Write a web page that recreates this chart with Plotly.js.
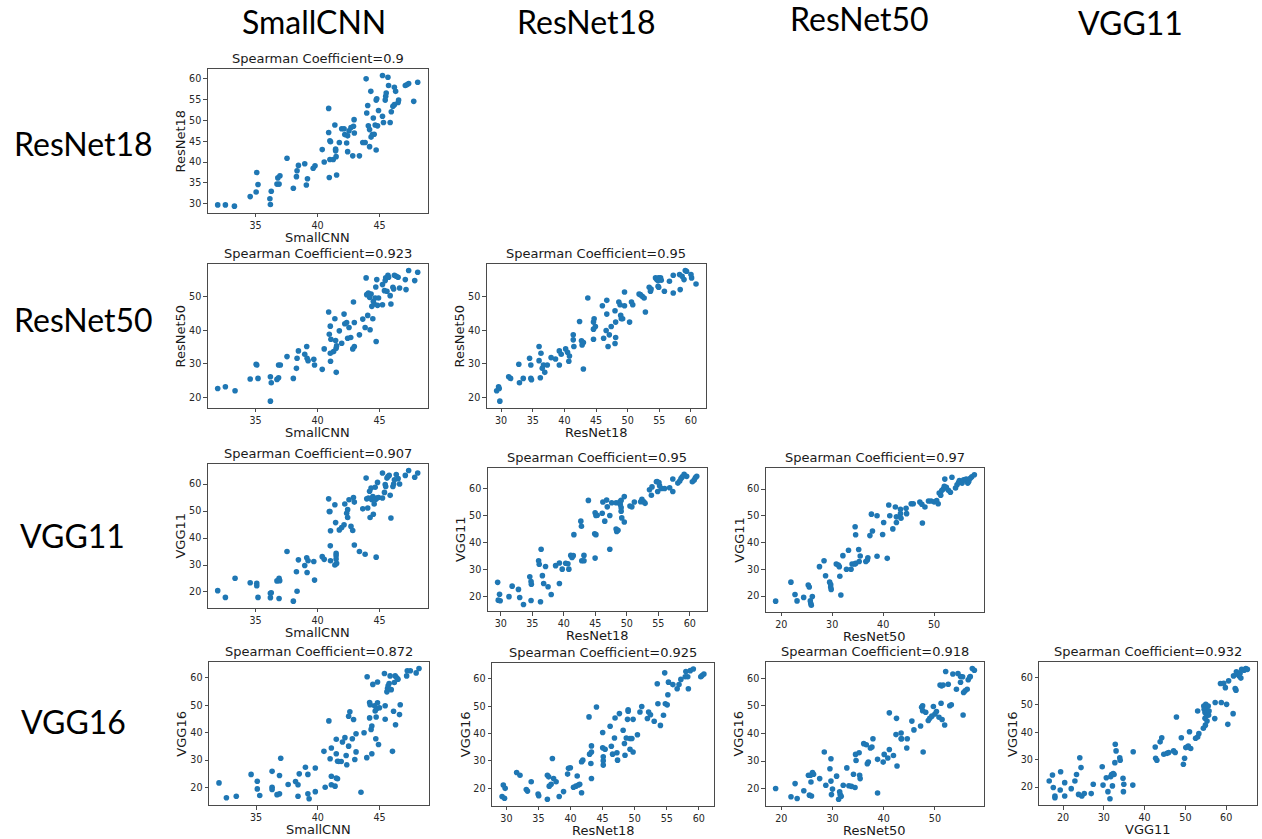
<!DOCTYPE html>
<html><head><meta charset="utf-8">
<script src="https://cdn.plot.ly/plotly-3.0.1.min.js"></script>
<style>html,body{margin:0;padding:0;background:#fff;}#chart{width:1262px;height:839px;}</style>
</head><body><div id="chart"></div>
<script>
// ---------------- data ----------------
const colHeaders = ["SmallCNN", "ResNet18", "ResNet50", "VGG11"];
const rowHeaders = ["ResNet18", "ResNet50", "VGG11", "VGG16"];
const spearman = ["0.9", "0.923", "0.95", "0.907", "0.95", "0.97", "0.872", "0.925", "0.918", "0.932"];

// [x, y] pairs per panel
const sc_r18 = [[31.95,29.7],[32.57,29.7],[33.3,29.4],[34.57,31.7],[35.05,32.8],[35.1,37.5],[35.2,34.6],[36.16,31.2],[36.2,29.8],[36.27,33.0],[36.73,34.7],[36.9,34.7],[36.8,36.2],[36.97,36.7],[37.54,40.9],[38.05,33.7],[38.3,36.5],[38.35,37.9],[38.46,39.2],[38.97,39.6],[39.1,34.5],[39.19,36.0],[39.65,38.5],[39.8,39.1],[40.38,43.0],[40.54,40.0],[40.9,52.9],[40.9,47.1],[40.95,36.3],[41.0,45.1],[41.05,44.9],[41.0,40.6],[41.27,40.6],[41.4,48.9],[41.46,43.1],[41.46,42.7],[41.5,41.3],[41.54,36.9],[41.76,44.7],[41.95,48.0],[42.14,48.0],[42.2,46.6],[42.35,44.6],[42.43,42.5],[42.43,46.3],[42.54,47.5],[42.7,48.3],[42.84,41.5],[42.9,48.6],[42.95,50.2],[42.97,47.0],[43.38,41.5],[43.65,44.7],[43.84,44.7],[43.92,60.0],[43.97,51.8],[44.05,53.6],[44.1,48.7],[44.2,47.8],[44.2,43.7],[44.3,57.0],[44.32,46.0],[44.43,46.6],[44.5,50.6],[44.57,46.7],[44.65,48.9],[44.73,54.9],[44.78,55.2],[44.73,42.9],[44.84,48.7],[44.92,52.4],[45.24,60.8],[45.24,51.0],[45.32,49.5],[45.46,54.9],[45.5,55.8],[45.54,56.6],[45.68,60.4],[45.73,58.4],[45.86,49.5],[45.95,52.1],[46.08,53.4],[46.2,53.8],[46.2,58.0],[46.3,57.0],[46.5,54.3],[46.54,54.9],[47.08,58.4],[47.2,58.6],[47.35,58.9],[47.76,54.6],[48.08,59.2]];

const sc_r50 = [[31.95,22.7],[32.57,23.2],[33.35,22.0],[34.57,25.5],[35.05,29.9],[35.1,29.7],[35.2,25.7],[36.2,26.2],[36.27,24.4],[36.2,18.9],[36.73,25.4],[36.86,25.9],[36.86,29.7],[37.0,29.7],[37.54,32.2],[38.05,25.7],[38.3,28.7],[38.35,31.7],[38.46,33.9],[38.97,32.9],[39.13,35.2],[39.16,31.7],[39.24,31.0],[39.7,31.4],[39.76,29.7],[40.38,28.4],[40.54,34.5],[40.9,45.5],[40.95,38.9],[41.03,41.3],[41.03,33.2],[41.05,30.8],[41.08,37.4],[41.3,33.7],[41.4,43.5],[41.46,37.0],[41.5,34.7],[41.54,35.4],[41.51,27.5],[41.76,39.9],[41.95,36.2],[42.14,44.9],[42.2,42.0],[42.35,42.4],[42.43,37.7],[42.54,40.9],[42.68,37.9],[42.84,34.5],[42.9,48.5],[42.97,35.2],[42.97,42.4],[43.38,38.7],[43.65,43.4],[43.84,40.9],[43.92,55.7],[43.97,50.7],[44.05,44.5],[44.1,51.2],[44.2,49.9],[44.24,40.2],[44.32,50.9],[44.38,47.2],[44.46,43.5],[44.5,48.7],[44.57,47.9],[44.65,49.7],[44.7,53.0],[44.73,36.7],[44.78,55.2],[44.84,47.5],[44.92,49.7],[45.24,47.7],[45.24,53.7],[45.4,51.9],[45.46,54.9],[45.5,55.7],[45.6,51.7],[45.68,56.5],[45.73,55.9],[45.86,50.4],[45.92,47.9],[46.08,52.9],[46.14,52.4],[46.2,56.5],[46.35,56.2],[46.5,55.9],[46.62,52.7],[47.08,55.2],[47.14,52.2],[47.35,57.9],[47.84,54.9],[48.08,57.4]];

const r18_r50 = [[29.3,22.0],[29.6,23.2],[29.7,22.7],[29.8,18.9],[31.2,26.2],[31.5,25.7],[32.8,29.9],[32.9,24.4],[33.5,25.7],[34.5,31.7],[34.7,29.7],[34.7,25.7],[34.8,25.3],[36.0,35.2],[36.0,31.0],[36.3,33.2],[36.2,25.9],[36.5,28.7],[36.7,29.7],[36.9,27.5],[37.3,29.7],[37.9,31.9],[38.6,31.5],[39.2,33.9],[39.2,29.7],[39.5,32.9],[40.2,34.5],[40.5,33.5],[40.7,30.8],[40.8,32.4],[41.4,38.7],[41.4,37.2],[41.5,35.2],[42.4,42.7],[42.7,36.9],[42.8,35.7],[43.0,36.4],[43.0,28.5],[43.7,49.7],[44.6,42.5],[44.6,40.4],[44.7,43.5],[44.9,41.2],[44.6,37.4],[46.0,47.4],[46.2,37.7],[46.6,40.0],[46.7,49.0],[46.7,44.9],[46.9,35.2],[47.1,38.7],[47.4,41.2],[48.0,36.1],[48.1,42.5],[48.1,37.9],[48.0,45.9],[48.6,48.5],[48.8,47.7],[48.9,44.5],[49.0,43.5],[49.2,43.5],[49.5,47.4],[49.5,51.5],[50.3,42.5],[50.6,48.5],[50.8,47.7],[51.8,50.9],[52.0,50.7],[52.3,50.2],[52.6,49.7],[52.8,45.5],[53.4,52.9],[53.6,51.7],[53.7,52.4],[54.4,55.7],[54.6,55.2],[54.8,54.9],[54.9,55.7],[54.8,53.2],[54.9,52.9],[55.2,55.7],[55.3,55.0],[55.8,51.7],[56.6,54.7],[57.2,56.5],[57.2,51.2],[58.2,56.7],[58.3,52.2],[58.6,56.2],[58.9,55.2],[59.1,57.9],[59.3,57.7],[60.0,56.7],[60.1,55.7],[60.8,53.9]];

const sc_v11 = [[31.95,20.5],[32.57,18.0],[33.35,25.1],[34.57,23.4],[35.1,23.2],[35.1,22.3],[35.2,18.0],[36.2,19.5],[36.2,17.9],[36.27,19.7],[36.73,24.1],[36.9,25.1],[36.95,24.2],[36.9,17.6],[37.54,35.0],[38.05,16.6],[38.3,27.5],[38.35,20.3],[38.46,31.9],[38.97,29.8],[39.13,32.7],[39.16,27.2],[39.24,31.6],[39.7,31.3],[39.76,24.4],[40.38,33.1],[40.54,32.1],[40.9,54.5],[40.95,49.8],[41.0,49.8],[41.03,37.1],[41.05,42.7],[41.05,31.6],[41.4,52.3],[41.46,45.7],[41.5,34.3],[41.5,33.4],[41.5,32.2],[41.4,30.0],[41.54,30.6],[41.76,43.0],[41.95,43.9],[42.14,44.9],[42.2,52.6],[42.35,49.2],[42.43,50.5],[42.43,47.6],[42.54,54.2],[42.7,44.3],[42.84,42.8],[42.9,55.0],[42.97,53.3],[42.97,37.4],[43.38,35.0],[43.65,50.8],[43.84,34.0],[43.92,62.2],[43.97,54.5],[44.05,51.1],[44.1,54.8],[44.2,57.3],[44.24,47.6],[44.32,58.5],[44.38,54.2],[44.46,55.4],[44.5,48.8],[44.57,52.6],[44.65,58.8],[44.7,54.4],[44.73,32.9],[44.78,54.8],[44.84,60.6],[44.92,55.0],[45.24,64.1],[45.24,54.8],[45.4,56.9],[45.46,59.8],[45.5,59.1],[45.6,62.2],[45.68,62.8],[45.78,63.2],[45.86,55.8],[45.92,47.4],[46.08,59.1],[46.14,60.0],[46.2,61.6],[46.35,63.5],[46.5,62.0],[46.62,60.0],[47.08,63.2],[47.35,65.0],[47.84,62.5],[48.08,64.1]];

const r18_v11 = [[29.5,25.1],[29.6,18.5],[29.8,20.7],[29.9,18.3],[31.3,19.8],[31.8,23.7],[32.8,22.5],[33.0,19.5],[33.6,16.9],[34.6,27.2],[34.8,25.4],[34.85,24.4],[34.8,18.4],[36.0,33.1],[36.1,31.8],[36.4,37.4],[36.3,17.9],[36.6,27.6],[36.8,24.7],[37.1,31.0],[37.5,23.5],[38.0,20.6],[38.7,31.3],[39.3,32.3],[39.3,24.7],[39.75,30.0],[40.3,32.2],[40.65,32.0],[40.8,30.0],[41.1,35.1],[41.3,34.3],[41.5,35.0],[41.6,42.8],[42.7,47.8],[42.8,45.9],[42.85,33.1],[43.2,33.1],[43.2,35.1],[43.9,55.5],[44.9,43.1],[44.97,50.9],[44.97,34.1],[45.1,49.9],[45.1,42.8],[45.3,50.0],[46.1,50.7],[46.2,54.9],[46.5,47.8],[46.8,55.6],[46.9,53.1],[47.3,49.9],[47.3,37.4],[47.6,54.6],[48.3,54.6],[48.3,44.9],[48.4,44.0],[48.6,44.4],[48.9,55.0],[48.96,54.0],[49.1,55.5],[49.1,52.8],[49.1,51.5],[49.2,49.0],[49.6,56.9],[49.6,47.5],[50.5,53.4],[50.8,53.1],[51.2,54.9],[52.2,55.0],[52.4,55.9],[52.7,55.0],[52.9,54.4],[53.6,59.4],[53.9,57.4],[54.0,60.5],[54.7,62.4],[54.8,62.5],[55.1,62.1],[55.2,60.9],[54.9,58.8],[55.5,59.9],[56.0,59.9],[56.8,60.2],[57.3,63.4],[57.3,58.8],[58.1,61.9],[58.4,62.7],[58.6,63.6],[58.8,64.2],[59.1,65.2],[59.5,64.4],[60.4,62.4],[60.7,63.1],[60.9,64.0],[61.1,64.4]];

const r50_v11 = [[18.9,18.1],[21.9,25.2],[22.7,20.6],[23.1,18.2],[24.4,19.5],[25.3,24.1],[25.5,23.4],[25.7,18.2],[25.8,17.2],[25.9,16.6],[26.1,19.8],[27.5,31.0],[28.4,33.2],[28.7,27.6],[29.5,25.2],[29.7,24.3],[29.7,23.4],[29.8,22.5],[30.8,32.0],[31.2,31.6],[31.4,31.0],[31.5,27.4],[31.7,20.4],[32.1,35.1],[32.8,30.0],[33.2,37.1],[33.7,30.0],[33.9,32.0],[34.4,32.0],[34.5,45.9],[34.6,42.9],[34.6,32.2],[35.2,37.4],[35.3,32.9],[35.5,35.0],[36.6,32.9],[36.9,33.5],[37.0,34.3],[37.4,42.6],[37.7,50.6],[37.9,44.3],[38.8,50.0],[38.8,34.9],[39.9,43.0],[40.1,47.5],[40.8,34.1],[41.1,54.0],[41.3,50.0],[41.9,45.1],[42.4,53.3],[42.6,47.5],[42.6,49.6],[43.4,52.4],[43.4,50.8],[43.5,49.1],[44.5,52.8],[44.6,50.8],[45.5,54.5],[45.9,54.5],[47.2,55.1],[47.6,54.3],[47.7,47.3],[48.2,53.3],[48.9,55.5],[49.4,55.5],[50.0,55.2],[50.5,55.7],[50.8,54.5],[51.0,58.5],[51.3,57.7],[51.5,59.4],[51.8,60.0],[52.0,61.0],[52.1,63.7],[52.4,60.6],[52.8,59.5],[53.2,58.8],[53.5,64.4],[54.2,60.4],[54.5,61.6],[54.8,62.4],[54.97,63.2],[55.5,62.2],[55.8,63.4],[56.3,63.7],[56.6,62.2],[56.8,62.8],[57.1,64.0],[57.4,64.6],[57.9,65.3]];

const sc_v16 = [[32.0,21.7],[32.6,16.3],[33.4,16.8],[34.6,24.8],[35.1,22.3],[35.1,19.5],[35.3,17.1],[36.3,25.9],[36.3,20.1],[36.3,19.3],[36.7,17.4],[36.9,24.4],[36.9,17.7],[37.0,30.7],[37.6,21.1],[38.2,22.2],[38.4,16.8],[38.4,21.0],[38.5,25.0],[39.0,27.4],[39.2,17.7],[39.2,24.8],[39.3,15.9],[39.8,18.5],[39.8,27.1],[40.5,33.2],[40.6,20.1],[40.9,44.3],[41.0,30.5],[41.1,34.4],[41.1,24.1],[41.1,21.0],[41.4,20.5],[41.5,37.6],[41.5,23.5],[41.6,23.2],[41.5,32.3],[41.6,29.6],[41.7,29.5],[41.9,29.5],[42.0,36.6],[42.2,38.2],[42.3,31.7],[42.35,28.3],[42.5,35.1],[42.5,46.0],[42.6,47.6],[42.8,37.8],[42.9,44.8],[43.0,30.2],[43.1,39.6],[43.1,33.0],[43.5,18.3],[43.75,40.0],[43.97,30.9],[44.0,60.4],[44.2,45.4],[44.2,51.0],[44.24,50.2],[44.32,41.2],[44.38,42.4],[44.38,32.3],[44.46,57.6],[44.6,49.8],[44.65,47.9],[44.7,37.8],[44.73,45.7],[44.78,48.8],[44.84,50.9],[44.84,58.5],[44.92,35.7],[45.0,49.1],[45.4,61.6],[45.46,49.8],[45.46,44.9],[45.6,54.9],[45.65,56.1],[45.7,57.1],[45.78,57.9],[45.86,60.7],[45.95,55.7],[46.05,33.2],[46.14,47.8],[46.2,58.3],[46.27,60.7],[46.3,42.9],[46.4,60.0],[46.5,59.5],[46.62,46.6],[46.68,50.2],[47.2,60.7],[47.25,62.6],[47.5,62.6],[47.97,61.8],[48.2,63.4]];

const r18_v16 = [[29.33,17.0],[29.52,21.2],[29.71,16.4],[29.81,20.0],[31.6,25.8],[32.12,24.8],[33.1,19.6],[33.29,19.0],[33.87,22.4],[34.94,17.9],[35.04,17.3],[36.39,16.0],[36.39,24.8],[36.59,24.2],[36.68,20.8],[36.97,21.5],[37.17,30.9],[37.36,23.6],[37.75,22.4],[38.23,17.0],[38.91,18.8],[39.54,25.2],[39.68,27.3],[39.97,27.5],[40.46,20.4],[40.84,20.8],[41.04,24.5],[41.23,21.2],[41.43,21.5],[41.72,18.4],[41.72,29.7],[41.91,30.3],[42.88,46.1],[42.97,32.5],[43.17,29.1],[43.26,33.3],[43.26,35.5],[43.26,23.6],[44.04,49.7],[45.01,40.4],[45.01,34.8],[45.1,31.5],[45.1,30.1],[45.1,28.5],[45.39,34.3],[46.17,42.7],[46.36,35.4],[46.56,32.5],[46.85,38.4],[46.94,45.7],[47.23,33.0],[47.33,30.3],[47.62,47.3],[48.2,41.2],[48.4,36.4],[48.49,32.1],[48.69,38.4],[48.88,45.2],[48.98,48.7],[48.98,48.2],[49.27,38.2],[49.27,34.3],[49.56,38.2],[49.75,45.2],[49.75,33.3],[50.43,39.6],[50.82,47.9],[51.1,49.9],[51.98,45.5],[52.17,47.9],[52.46,46.9],[53.04,44.5],[53.52,58.2],[53.62,50.9],[54.01,43.0],[54.49,46.7],[54.68,62.2],[54.78,50.9],[55.07,50.5],[55.17,54.2],[55.27,58.8],[55.95,57.9],[56.62,56.4],[56.91,57.9],[57.2,59.8],[57.88,60.8],[57.98,62.7],[58.27,60.8],[58.37,56.4],[58.66,63.0],[59.14,63.6],[60.3,60.8],[60.5,61.2],[60.79,61.8]];

const r50_v16 = [[18.9,20.0],[21.9,17.0],[22.7,21.8],[23.1,16.4],[24.4,19.2],[25.3,24.8],[25.5,17.6],[25.7,24.8],[25.8,22.4],[25.9,17.3],[26.1,25.8],[26.3,25.2],[27.5,23.6],[28.4,33.3],[28.7,21.2],[29.5,27.2],[29.7,30.8],[29.7,22.7],[29.8,17.8],[30.0,19.8],[30.8,24.5],[31.2,16.1],[31.4,18.8],[31.5,17.8],[31.7,17.2],[32.1,21.2],[32.8,27.5],[33.2,21.0],[33.7,20.8],[34.1,25.2],[34.4,20.4],[34.5,32.4],[34.6,30.2],[35.2,33.0],[35.3,24.8],[35.4,23.6],[36.1,36.3],[36.6,35.9],[36.8,29.0],[37.0,29.6],[37.4,34.7],[37.7,35.1],[37.9,38.1],[38.8,18.4],[38.8,30.6],[39.9,29.6],[40.1,32.4],[40.8,31.1],[41.1,34.2],[41.1,47.5],[41.9,32.0],[42.4,39.6],[42.5,45.5],[42.6,28.2],[43.4,38.1],[43.4,40.2],[43.5,38.1],[44.5,34.7],[44.6,38.1],[45.5,44.5],[45.9,41.3],[47.2,42.7],[47.4,49.5],[47.6,50.1],[47.6,48.3],[47.7,33.3],[48.2,47.7],[48.7,44.7],[49.0,45.5],[49.4,46.3],[49.7,49.8],[50.0,47.1],[50.3,48.0],[50.8,45.9],[51.0,57.6],[51.2,51.0],[51.3,57.3],[51.4,45.1],[51.6,57.6],[51.9,43.1],[52.1,62.5],[52.6,57.9],[52.9,50.1],[53.2,50.4],[53.5,61.6],[54.2,56.1],[54.5,61.8],[55.0,58.6],[55.0,60.7],[55.4,60.6],[55.5,46.7],[55.6,54.9],[55.9,55.5],[56.3,56.1],[56.5,59.5],[56.8,60.4],[56.9,60.7],[57.3,63.6],[57.7,63.0]];

const v11_v16 = [[16.6,22.2],[17.4,24.4],[17.6,19.8],[18.0,16.7],[18.0,16.1],[19.3,18.9],[19.4,25.6],[20.4,21.6],[20.4,16.7],[22.0,19.4],[22.9,22.2],[23.3,24.6],[23.8,17.3],[24.1,30.7],[24.4,27.1],[24.6,16.7],[25.2,17.6],[26.9,17.6],[27.4,21.0],[29.6,27.4],[29.8,20.7],[30.6,23.4],[31.0,18.3],[31.5,15.7],[31.7,23.8],[31.9,24.6],[32.1,20.4],[32.3,24.9],[32.5,24.6],[32.7,28.9],[32.8,35.6],[33.0,33.2],[33.9,30.7],[34.0,29.8],[34.7,23.2],[34.8,18.3],[34.9,21.0],[37.1,20.7],[37.2,32.9],[42.6,34.6],[42.7,30.5],[43.0,29.8],[43.8,36.5],[44.2,38.0],[44.7,32.0],[45.5,32.3],[45.9,32.6],[47.1,33.2],[47.5,32.6],[47.8,45.6],[49.0,38.0],[49.5,28.3],[49.8,30.5],[50.1,34.4],[50.5,34.6],[50.7,35.0],[51.0,40.2],[51.3,34.1],[52.5,37.8],[53.0,38.3],[53.0,47.8],[53.3,39.5],[54.4,41.5],[54.5,49.6],[54.6,48.4],[54.8,47.2],[54.8,45.1],[54.9,42.6],[55.0,50.2],[55.2,49.3],[55.2,46.0],[55.3,44.1],[55.4,47.4],[55.6,49.6],[55.7,46.3],[55.8,47.8],[57.2,45.0],[57.3,50.9],[58.6,57.8],[58.8,50.9],[59.4,57.9],[59.8,56.3],[60.1,50.2],[60.4,42.9],[60.6,58.8],[61.7,46.8],[61.8,60.6],[62.2,56.0],[62.4,55.4],[62.5,62.1],[62.8,61.2],[63.2,60.6],[63.6,59.8],[63.8,63.0],[64.4,62.7],[64.8,63.3],[65.2,63.0],[63.4,61.6]];

// ---------------- panel layout (pixel frames) ----------------
const W = 1262, H = 839;
const panels = [
  {pts: sc_r18,  xl: "SmallCNN", yl: "ResNet18", box: [207.7, 427.7, 69.0, 212.7], xd: 5,  yd: 5},
  {pts: sc_r50,  xl: "SmallCNN", yl: "ResNet50", box: [207.7, 427.7, 264.0, 407.7], xd: 5,  yd: 10},
  {pts: r18_r50, xl: "ResNet18", yl: "ResNet50", box: [486.7, 706.0, 264.0, 407.7], xd: 5,  yd: 10},
  {pts: sc_v11,  xl: "SmallCNN", yl: "VGG11",    box: [207.7, 427.7, 464.0, 607.7], xd: 5,  yd: 10},
  {pts: r18_v11, xl: "ResNet18", yl: "VGG11",    box: [487.7, 706.7, 467.7, 611.0], xd: 5,  yd: 10},
  {pts: r50_v11, xl: "ResNet50", yl: "VGG11",    box: [765.7, 984.3, 468.3, 611.7], xd: 10, yd: 10},
  {pts: sc_v16,  xl: "SmallCNN", yl: "VGG16",    box: [209.0, 429.0, 662.0, 805.3], xd: 5,  yd: 10},
  {pts: r18_v16, xl: "ResNet18", yl: "VGG16",    box: [492.0, 714.0, 662.5, 805.8], xd: 5,  yd: 10},
  {pts: r50_v16, xl: "ResNet50", yl: "VGG16",    box: [765.7, 984.3, 662.0, 805.8], xd: 10, yd: 10},
  {pts: v11_v16, xl: "VGG11",    yl: "VGG16",    box: [1039.3, 1257.3, 662.0, 805.3], xd: 10, yd: 10}
];
const colCenters = [314, 586, 859, 1130];
const colCentersY = [22, 22, 19, 23];
const rowCentersX = [83, 83, 72, 73];
const rowCentersY = [144, 320, 535, 721];

// ---------------- build ----------------
const px = v => v / W, py = v => 1 - v / H;
const tickColor = '#4a4a4a';
const data = [], annotations = [];
const layout = {
  width: W, height: H, margin: {l: 0, r: 0, t: 0, b: 0},
  paper_bgcolor: '#fff', plot_bgcolor: '#fff', showlegend: false,
  font: {family: 'DejaVu Sans, sans-serif', color: '#222'}
};
function padRange(vals) {
  const mn = Math.min(...vals), mx = Math.max(...vals), p = (mx - mn) * 0.05;
  return [mn - p, mx + p];
}
panels.forEach((pn, i) => {
  const s = i === 0 ? '' : String(i + 1);
  const xs = pn.pts.map(d => d[0]), ys = pn.pts.map(d => d[1]);
  data.push({
    type: 'scatter', mode: 'markers', x: xs, y: ys,
    xaxis: 'x' + s, yaxis: 'y' + s,
    marker: {color: '#1f77b4', size: 5.6, line: {width: 0}},
    hoverinfo: 'x+y'
  });
  const [l, r, t, b] = pn.box;
  const common = {
    showline: true, mirror: true, linecolor: tickColor, linewidth: 1,
    ticks: 'outside', ticklen: 3.5, tickwidth: 1, tickcolor: tickColor,
    tick0: 0, showgrid: false, zeroline: false, fixedrange: true,
    tickfont: {family: 'DejaVu Sans, sans-serif', size: 9.6, color: '#262626'}
  };
  layout['xaxis' + s] = Object.assign({}, common, {
    domain: [px(l), px(r)], range: padRange(xs), dtick: pn.xd, anchor: 'y' + s
  });
  layout['yaxis' + s] = Object.assign({}, common, {
    domain: [py(b), py(t)], range: padRange(ys), dtick: pn.yd, anchor: 'x' + s
  });
  // title
  annotations.push({
    xref: 'paper', yref: 'paper', x: px((l + r) / 2), y: py(t - 1),
    xanchor: 'center', yanchor: 'bottom', showarrow: false,
    text: 'Spearman Coefficient=' + spearman[i],
    font: {family: 'DejaVu Sans, sans-serif', size: 13, color: '#1a1a1a'}
  });
  // x label
  annotations.push({
    xref: 'paper', yref: 'paper', x: px((l + r) / 2), y: py(b + 24.5),
    xanchor: 'center', yanchor: 'middle', showarrow: false, borderpad: 0,
    text: pn.xl, font: {family: 'DejaVu Sans, sans-serif', size: 13, color: '#1a1a1a'}
  });
  // y label
  annotations.push({
    xref: 'paper', yref: 'paper', x: px(l - 27), y: py((t + b) / 2),
    xanchor: 'center', yanchor: 'middle', showarrow: false, textangle: -90, borderpad: 0,
    text: pn.yl, font: {family: 'DejaVu Sans, sans-serif', size: 13, color: '#1a1a1a'}
  });
});
const bigFont = {family: 'Lato, "Open Sans", sans-serif', size: 32, color: '#000'};
colHeaders.forEach((h, j) => annotations.push({
  xref: 'paper', yref: 'paper', x: px(colCenters[j]), y: py(colCentersY[j]),
  xanchor: 'center', yanchor: 'middle', showarrow: false, text: h, font: bigFont
}));
rowHeaders.forEach((h, j) => annotations.push({
  xref: 'paper', yref: 'paper', x: px(rowCentersX[j]), y: py(rowCentersY[j]),
  xanchor: 'center', yanchor: 'middle', showarrow: false, text: h, font: bigFont
}));
layout.annotations = annotations;
Plotly.newPlot('chart', data, layout, {displayModeBar: false, staticPlot: true});
</script></body></html>
